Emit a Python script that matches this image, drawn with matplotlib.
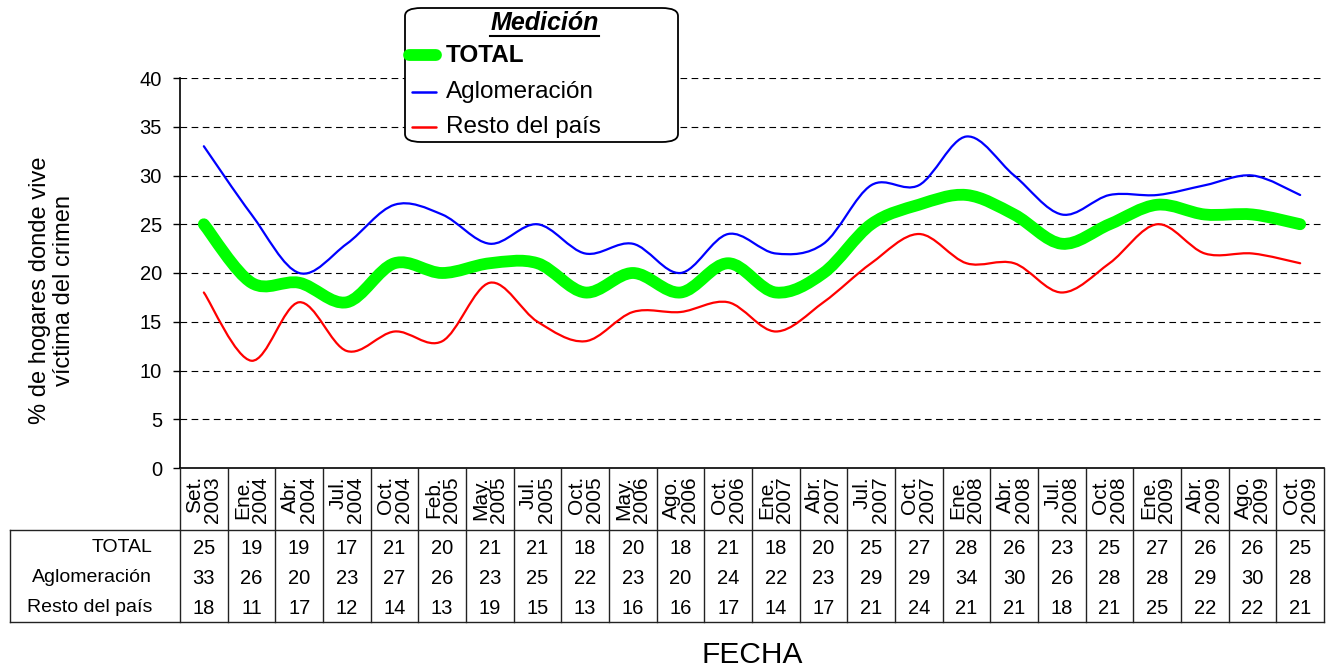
import matplotlib
matplotlib.use("Agg")
import matplotlib.pyplot as plt
from matplotlib.path import Path
from matplotlib.patches import PathPatch, FancyBboxPatch
from matplotlib.lines import Line2D
from matplotlib import transforms

plt.rcParams['font.family'] = ['Liberation Sans', 'DejaVu Sans']

fechas = ["Set.\n2003", "Ene.\n2004", "Abr.\n2004", "Jul.\n2004", "Oct.\n2004", "Feb.\n2005",
          "May.\n2005", "Jul.\n2005", "Oct.\n2005", "May.\n2006", "Ago.\n2006", "Oct.\n2006",
          "Ene.\n2007", "Abr.\n2007", "Jul.\n2007", "Oct.\n2007", "Ene.\n2008", "Abr.\n2008",
          "Jul.\n2008", "Oct.\n2008", "Ene.\n2009", "Abr.\n2009", "Ago.\n2009", "Oct.\n2009"]
total = [25, 19, 19, 17, 21, 20, 21, 21, 18, 20, 18, 21, 18, 20, 25, 27, 28, 26, 23, 25, 27, 26, 26, 25]
aglomeracion = [33, 26, 20, 23, 27, 26, 23, 25, 22, 23, 20, 24, 22, 23, 29, 29, 34, 30, 26, 28, 28, 29, 30, 28]
resto = [18, 11, 17, 12, 14, 13, 19, 15, 13, 16, 16, 17, 14, 17, 21, 24, 21, 21, 18, 21, 25, 22, 22, 21]
series_names = ["TOTAL", "Aglomeración", "Resto del país"]
y_ticks = [0, 5, 10, 15, 20, 25, 30, 35, 40]

W, H = 1338, 668
fig = plt.figure(figsize=(W / 100, H / 100), dpi=100)

def fx(px):
    return px / W

def fy(py):
    return 1 - py / H

ax_l, ax_r, ax_t, ax_b = 180, 1324, 78, 468
ax = fig.add_axes([fx(ax_l), fy(ax_b), fx(ax_r - ax_l), (ax_b - ax_t) / H])
n = len(fechas)
ax.set_xlim(0, n)
ax.set_ylim(0, 40)
ax.set_yticks(y_ticks)
ax.set_yticklabels([str(v) for v in y_ticks], fontsize=14.5)
ax.set_xticks([])
for s in ["top", "right"]:
    ax.spines[s].set_visible(False)
ax.spines["left"].set_linewidth(1.2)
ax.spines["bottom"].set_linewidth(1.2)
ax.tick_params(axis="y", length=5, width=1, pad=8)
for v in y_ticks[1:]:
    ax.axhline(v, color="black", lw=0.8, ls=(0, (6, 4)), zorder=0)


def smooth_patch(vals, color, lw, z):
    xs = [i + 0.5 for i in range(len(vals))]
    pts = list(zip(xs, vals))
    verts = [pts[0]]
    codes = [Path.MOVETO]
    for i in range(len(pts) - 1):
        p0 = pts[i - 1] if i > 0 else pts[i]
        p1 = pts[i]
        p2 = pts[i + 1]
        p3 = pts[i + 2] if i + 2 < len(pts) else pts[i + 1]
        c1 = (p1[0] + (p2[0] - p0[0]) / 6, p1[1] + (p2[1] - p0[1]) / 6)
        c2 = (p2[0] - (p3[0] - p1[0]) / 6, p2[1] - (p3[1] - p1[1]) / 6)
        verts += [c1, c2, p2]
        codes += [Path.CURVE4] * 3
    patch = PathPatch(Path(verts, codes), fill=False, edgecolor=color, lw=lw,
                      capstyle="round", joinstyle="round", zorder=z)
    ax.add_patch(patch)


smooth_patch(total, "#00FF00", 8.5, 3)
smooth_patch(aglomeracion, "#0000FF", 1.6, 4)
smooth_patch(resto, "#FF0000", 1.6, 4)

# Data table
bt = transforms.blended_transform_factory(ax.transData, fig.transFigure)
tab_top, row_line, tab_bot, left_edge = 468, 530, 622, 10
lc = "#222222"
for i in range(n + 1):
    fig.add_artist(Line2D([i, i], [fy(tab_top), fy(tab_bot)], transform=bt, color=lc, lw=1))
fig.add_artist(Line2D([fx(left_edge), fx(ax_r)], [fy(row_line), fy(row_line)],
                      transform=fig.transFigure, color=lc, lw=1))
fig.add_artist(Line2D([fx(left_edge), fx(ax_r)], [fy(tab_bot), fy(tab_bot)],
                      transform=fig.transFigure, color=lc, lw=1))
fig.add_artist(Line2D([fx(left_edge), fx(left_edge)], [fy(row_line), fy(tab_bot)],
                      transform=fig.transFigure, color=lc, lw=1))

for i, lab in enumerate(fechas):
    fig.text(i + 0.5, fy(476), lab, transform=bt, rotation=90, ha="center", va="top",
             multialignment="right", fontsize=15, linespacing=0.92)

row_y = [548, 578, 608]
for name, vals, ry in zip(series_names, [total, aglomeracion, resto], row_y):
    fig.text(fx(152), fy(ry), name, ha="right", va="center", fontsize=14)
    for i, v in enumerate(vals):
        fig.text(i + 0.5, fy(ry), str(v), transform=bt, ha="center", va="center", fontsize=14.5)

# Axis labels
fig.text(fx(52), fy(290), "% de hogares donde vive\nvíctima del crimen", rotation=90,
         ha="center", va="center", fontsize=17, linespacing=1.1)
fig.text(fx(752), fy(655), "FECHA", ha="center", va="center", fontsize=21.5)

# Legend
box = FancyBboxPatch((fx(405), fy(142)), fx(678 - 405), (142 - 8) / H,
                     boxstyle="round,pad=0,rounding_size=0.012", transform=fig.transFigure,
                     facecolor="white", edgecolor="black", lw=1.3, zorder=10)
fig.add_artist(box)
fig.text(fx(545), fy(23), "Medición", ha="center", va="center", fontsize=18,
         fontweight="bold", fontstyle="italic", zorder=11)
fig.add_artist(Line2D([fx(490), fx(599)], [fy(36), fy(36)], transform=fig.transFigure,
                      color="black", lw=1.5, zorder=11))
leg_rows = [(55, "#00FF00", 8.5, "bold"), (92, "#0000FF", 1.8, "normal"), (127, "#FF0000", 1.8, "normal")]
for (ly, col, lw, fw), name in zip(leg_rows, series_names):
    x0 = 409 if fw == "bold" else 412
    fig.add_artist(Line2D([fx(x0), fx(436)], [fy(ly), fy(ly)], transform=fig.transFigure,
                          color=col, lw=lw, solid_capstyle="round", zorder=11))
    fig.text(fx(446), fy(ly), name, ha="left", va="center", fontsize=17.5, fontweight=fw, zorder=11)

fig.savefig("out.png", dpi=100)
